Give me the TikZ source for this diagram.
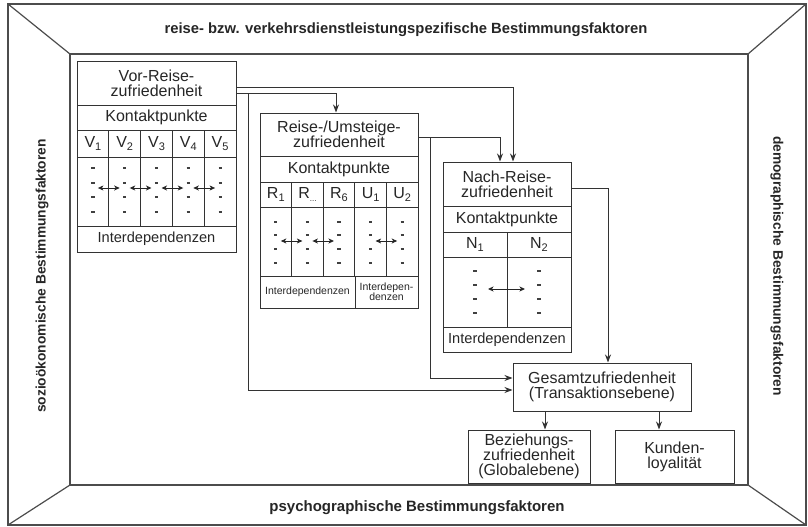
\documentclass[tikz,border=0pt]{standalone}
\usepackage{fontspec}
\setmainfont{Liberation Sans}
\usetikzlibrary{arrows.meta,calc}
\newcommand{\mysub}[1]{\raisebox{-0.45ex}{\fontsize{11}{11}\selectfont #1}}
\begin{document}
\begin{tikzpicture}[x=1pt,y=-1pt,
  fr/.style={draw=black!70, line width=1.2pt},
  lab/.style={font=\fontsize{15}{16}\selectfont\bfseries, text=black!85, inner sep=0pt},
  cell/.style={draw=black!80, line width=1pt, inner sep=0pt, align=center,
    font=\fontsize{16}{15}\selectfont, text=black!85},
  small/.style={font=\fontsize{10.5}{10}\selectfont},
  inter/.style={font=\fontsize{14.6}{15}\selectfont},
  arr/.style={draw=black!80, line width=1pt, -{Stealth[length=8pt,width=6pt,inset=2.5pt]}},
  darr/.style={draw=black!85, line width=0.9pt, {Stealth[length=5.5pt,width=5pt,inset=1.5pt]}-{Stealth[length=5.5pt,width=5pt,inset=1.5pt]}},
  dsh/.style={draw=black!75, line width=1.2pt}
]
\useasboundingbox (0,0) rectangle (808,527);
% frame
\draw[fr] (8,4) rectangle (806,525);
\draw[fr] (70,54) rectangle (748,485);
\draw[fr] (8,4) -- (70,54);
\draw[fr] (806,4) -- (748,54);
\draw[fr] (8,525) -- (70,485);
\draw[fr] (806,525) -- (748,485);
\node[lab, font=\fontsize{14.8}{16}\selectfont\bfseries] (ltop) at (406,30) {reise- bzw. verkehrsdienstleistungspezifische Bestimmungsfaktoren};
\node[lab] (lbot) at (417,508) {psychographische Bestimmungsfaktoren};
\node[lab, font=\fontsize{13.8}{16}\selectfont\bfseries, rotate=90] (llft) at (42,276) {sozioökonomische Bestimmungsfaktoren};
\node[lab, font=\fontsize{13.8}{16}\selectfont\bfseries, rotate=-90] (lrgt) at (777,266) {demographische Bestimmungsfaktoren};

% Vor-Reise box
\node[cell, minimum width=159, minimum height=43] (vt) at (156.5,83.5) {Vor-Reise-\\zufriedenheit};
\node[cell, minimum width=159, minimum height=25] (vk) at (156.5,117.5) {Kontaktpunkte};
\foreach \i/\x in {1/92.9,2/124.7,3/156.5,4/188.3,5/220.1}{
  \node[cell, minimum width=31.8, minimum height=27] (v\i) at (\x,143.5) {V\mysub{\i}};
  \node[cell, minimum width=31.8, minimum height=69] (v\i d) at (\x,191.5) {};
  \foreach \y in {168,183,197,212} \draw[dsh] (\x-1.6,\y) -- (\x+1.6,\y);
}
\node[cell, inter, minimum width=159, minimum height=26] (vi) at (156.5,239) {Interdependenzen};
\foreach \a/\b in {1/2,2/3,3/4,4/5}
  \draw[darr] ($(v\a d.center)+(5,-3.5)$) -- ($(v\b d.center)+(-5,-3.5)$);

% Reise-/Umsteige box
\node[cell, minimum width=158, minimum height=43] (rt) at (339,134.5) {Reise-/Umsteige-\\zufriedenheit};
\node[cell, minimum width=158, minimum height=26] (rk) at (339,169) {Kontaktpunkte};
\foreach \i/\x/\t in {1/275.8/{R\mysub{1}},2/307.4/{R\mysub{\fontsize{8}{8}\selectfont...}},3/339/{R\mysub{6}},4/370.6/{U\mysub{1}},5/402.2/{U\mysub{2}}}{
  \node[cell, minimum width=31.6, minimum height=25] (r\i) at (\x,194.5) {\t};
  \node[cell, minimum width=31.6, minimum height=69] (r\i d) at (\x,241.5) {};
  \foreach \y in {222,235,249,263} \draw[dsh] (\x-1.6,\y) -- (\x+1.6,\y);
}
\node[cell, small, minimum width=95, minimum height=32] (ri1) at (307.5,292) {Interdependenzen};
\node[cell, small, minimum width=63, minimum height=32] (ri2) at (386.5,292) {Interdepen-\\denzen};
\foreach \a/\b in {1/2,2/3,4/5}
  \draw[darr] ($(r\a d.center)+(5,-0.5)$) -- ($(r\b d.center)+(-5,-0.5)$);

% Nach-Reise box
\node[cell, minimum width=128, minimum height=44] (nt) at (507,184) {Nach-Reise-\\zufriedenheit};
\node[cell, minimum width=128, minimum height=26] (nk) at (507,219) {Kontaktpunkte};
\foreach \i/\x in {1/475,2/539}{
  \node[cell, minimum width=64, minimum height=25] (n\i) at (\x,244.5) {N\mysub{\i}};
  \node[cell, minimum width=64, minimum height=70] (n\i d) at (\x,292) {};
  \foreach \y in {271,285,299,313} \draw[dsh] (\x-1.6,\y) -- (\x+1.6,\y);
}
\node[cell, inter, minimum width=128, minimum height=25] (ni) at (507,339.5) {Interdependenzen};
\draw[darr] ($(n1d.center)+(13,-3)$) -- ($(n2d.center)+(-14,-3)$);

% result boxes
\node[cell, minimum width=178, minimum height=48] (gz) at (602,387) {Gesamtzufriedenheit\\(Transaktionsebene)};
\node[cell, minimum width=122, minimum height=53] (bz) at (529,456.5) {Beziehungs-\\zufriedenheit\\(Globalebene)};
\node[cell, minimum width=119, minimum height=53] (kl) at (674.5,456.5) {Kunden-\\loyalität};

% connectors
\draw[arr] ($(vt.east)+(0,3.5)$) -| ($(nt.north)+(6,0)$);
\draw[arr] ($(vt.east)+(0,9.5)$) -| ($(rt.north)+(-3,0)$);
\draw[arr] ($(vt.east)+(12,9.5)$) |- ($(gz.west)+(0,3)$);
\draw[arr] ($(rt.east)+(0,2.5)$) -| ($(nt.north)+(-7,0)$);
\draw[arr] ($(rt.east)+(12,2.5)$) |- ($(gz.west)+(0,-9)$);
\draw[arr] ($(nt.east)+(0,4)$) -| ($(gz.north)+(6,0)$);
\draw[arr] ($(gz.south)+(-57,0)$) -- ($(bz.north)+(16,0)$);
\draw[arr] ($(gz.south)+(57,0)$) -- ($(kl.north)+(-15.5,0)$);
\end{tikzpicture}
\end{document}
